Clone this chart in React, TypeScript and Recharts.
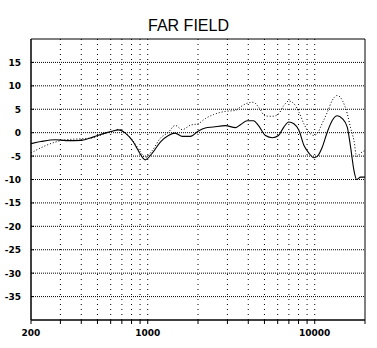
import React from "react";
import { LineChart, Line, XAxis, YAxis, ReferenceLine, ReferenceArea } from "recharts";

const freqs = [200, 230, 280, 325, 400, 470, 555, 620, 665, 735, 820, 900, 965, 1065, 1190, 1330, 1460, 1610, 1800, 2000, 2210, 2470, 2920, 3350, 3590, 3950, 4300, 4600, 5070, 5590, 6070, 6530, 7000, 7500, 8040, 8610, 9230, 9880, 10350, 11090, 11880, 12730, 13640, 14620, 15660, 16400, 17170, 17820, 18820, 20000];

const solidDb = [-2.35, -1.9, -1.5, -1.7, -1.65, -0.95, -0.1, 0.35, 0.6, -0.1, -2.0, -4.5, -5.8, -4.35, -2.0, -0.6, -0.1, -0.8, -0.8, 0.3, 1.0, 1.2, 1.5, 1.07, 1.7, 2.55, 2.55, 1.55, -0.6, -1.07, -0.6, 1.2, 2.27, 1.9, 0.5, -2.7, -4.35, -5.35, -5.07, -3.1, 0.1, 2.6, 3.6, 3.0, 1.2, -3.1, -8.05, -10, -9.5, -9.5];

const dottedDb = [-4.35, -3.2, -2.0, -1.5, -1.3, -1.07, -0.2, 0.3, 0.7, 0.0, -1.8, -4.0, -5.3, -3.8, -1.2, 0.1, 1.55, 0.65, 1.6, 1.9, 3.0, 3.85, 4.55, 4.75, 5.5, 6.3, 6.5, 5.5, 3.55, 3.5, 4.0, 5.8, 6.75, 6.2, 4.4, 1.9, 0.1, -0.6, -0.2, 2.0, 4.3, 6.9, 7.95, 6.9, 4.05, 1.0, -1.65, -5.07, -4.35, -3.8];

const xTicks = [200, 300, 400, 500, 600, 700, 800, 900, 1000, 2000, 3000, 4000, 5000, 6000, 7000, 8000, 9000, 10000, 20000];
const xLabels = [200, 1000, 10000];
const xGrid = [300, 400, 500, 600, 700, 800, 900, 1000, 2000, 3000, 4000, 5000, 6000, 7000, 8000, 9000, 10000];
const yTicks = [15, 10, 5, 0, -5, -10, -15, -20, -25, -30, -35];

const data = freqs.map((f, i) => ({ f, solid: solidDb[i], dotted: dottedDb[i] }));

const tickFont = { fontFamily: "DejaVu Sans", fontWeight: 700, fontSize: 9, fill: "#000" };

const XTick = (props: any) => {
  const { x, y, payload } = props;
  if (!xLabels.includes(payload.value)) return <g />;
  return (
    <text x={x} y={y} dy={10} textAnchor="middle" {...tickFont}>
      {payload.value}
    </text>
  );
};

const YTick = (props: any) => {
  const { x, y, payload } = props;
  return (
    <g>
      <line x1={x + 10} x2={x + 13} y1={y} y2={y} stroke="#000" strokeWidth={1} />
      <text x={x} y={y} dy={3.5} textAnchor="end" {...tickFont}>
        {payload.value}
      </text>
    </g>
  );
};

export default function App() {
  return (
    <div style={{ position: "absolute", left: 0, top: 0, width: 377, height: 348, background: "#fff" }}>
      <div
        style={{
          position: "absolute",
          left: 0,
          width: 377,
          top: 18,
          lineHeight: "16px",
          textAlign: "center",
          fontFamily: "Liberation Sans, Arial, sans-serif",
          fontSize: 16,
          color: "#000",
        }}
      >
        FAR FIELD
      </div>
      <LineChart width={377} height={348} data={data} margin={{ top: 39, right: 12, bottom: 0, left: 0 }}>
        <XAxis
          dataKey="f"
          type="number"
          scale="log"
          domain={[200, 20000]}
          ticks={xTicks}
          interval={0}
          height={28}
          tickSize={4}
          tickMargin={2}
          tickLine={{ stroke: "#000" }}
          axisLine={{ stroke: "#000" }}
          tick={<XTick />}
          allowDataOverflow
        />
        <YAxis
          type="number"
          domain={[-40, 20]}
          ticks={yTicks}
          interval={0}
          width={31}
          tickSize={0}
          tickMargin={10}
          tickLine={false}
          axisLine={{ stroke: "#000" }}
          tick={<YTick />}
          allowDataOverflow
        />
        {yTicks.map((v) => (
          <ReferenceLine key={"h" + v} y={v} stroke="#000" strokeWidth={1} strokeDasharray="1 1" />
        ))}
        {xGrid.map((v) => (
          <ReferenceLine key={"v" + v} x={v} stroke="#000" strokeWidth={1} strokeDasharray="1 4" />
        ))}
        <ReferenceArea x1={200} x2={20000} y1={-40} y2={20} fill="none" stroke="#000" strokeWidth={1} fillOpacity={0} />
        <Line type="monotone" dataKey="dotted" stroke="#000" strokeWidth={1} strokeDasharray="1 2" dot={false} isAnimationActive={false} />
        <Line type="monotone" dataKey="solid" stroke="#000" strokeWidth={1.1} dot={false} isAnimationActive={false} />
      </LineChart>
    </div>
  );
}
